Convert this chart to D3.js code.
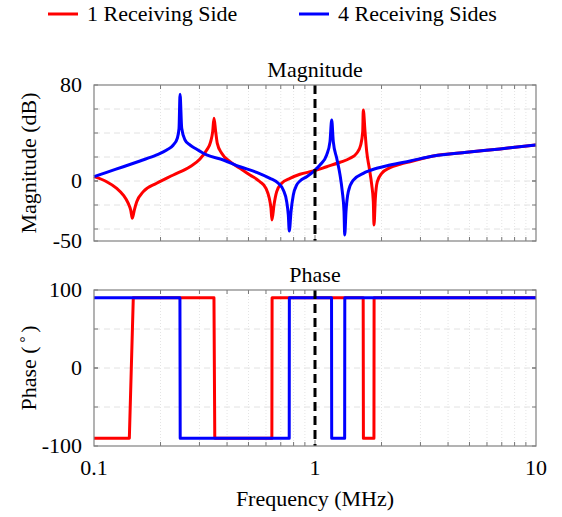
<!DOCTYPE html>
<html>
<head>
<meta charset="utf-8">
<script src="https://cdn.jsdelivr.net/npm/d3@7"></script>
<style>
  body { margin: 0; background: #fff; }
  svg text { font-family: "Liberation Serif", "DejaVu Serif", serif !important; }
</style>
</head>
<body>
<svg id="chart" width="562" height="517"></svg>
<script>
// magnitude (dB) vs frequency (MHz)
var redMag = [
  [0.1, 3.6], [0.1141, -0.6], [0.1267, -6.1], [0.1357, -11.7], [0.1429, -18.6], [0.1466, -24.2],
  [0.1491, -31.1], [0.1522, -24.2], [0.1561, -17.3], [0.1671, -8.9], [0.1921, -1.9],
  [0.2285, 5], [0.2719, 11.9], [0.3018, 18.3], [0.3236, 25.8], [0.3373, 32.8], [0.3444, 41.1],
  [0.3491, 52.2], [0.3553, 41.1], [0.3613, 31.4], [0.3783, 23.1], [0.4125, 16.1],
  [0.4577, 10.6], [0.508, 5], [0.5638, -0.6], [0.6, -6.1], [0.6211, -14.4], [0.6322, -22.8],
  [0.6388, -32.5], [0.6523, -20], [0.6709, -8.9], [0.7067, -1.9], [0.7706, 2.2],
  [0.8553, 5.6], [0.9825, 8.3], [1.129, 11.9], [1.298, 15.6], [1.44, 18.9], [1.544, 23.1],
  [1.61, 30], [1.644, 41.1], [1.654, 59.2], [1.684, 41.1], [1.714, 24.4], [1.761, 10.6],
  [1.806, -3.3], [1.836, -17.3], [1.849, -36.7], [1.875, -14.4], [1.914, -0.6],
  [2.004, 6.4], [2.185, 11.1], [2.425, 13.9], [2.691, 16.1], [3.43, 20.8], [4.859, 23.9],
  [6.873, 26.7], [10, 30]
];
var blueMag = [
  [0.1, 3.6], [0.1141, 7.25], [0.1357, 11.9], [0.1615, 16.7], [0.1921, 21.7], [0.2133, 25.8],
  [0.2285, 30], [0.2382, 35.6], [0.2425, 43.9], [0.2451, 72.2], [0.2494, 43.9],
  [0.2581, 34.2], [0.2719, 30], [0.2915, 26.4], [0.3236, 21.7], [0.3847, 17.5],
  [0.4577, 11.9], [0.5447, 7.25], [0.6257, 2.2], [0.6823, -1.9], [0.7187, -7.5],
  [0.7446, -17.3], [0.7572, -28.3], [0.765, -41.7], [0.7788, -25.6], [0.7977, -11.7],
  [0.8265, -3.3], [0.8553, 0], [0.9172, 3.6], [0.9897, 8.3], [1.053, 13.3], [1.129, 21.7],
  [1.169, 32.8], [1.19, 50.8], [1.21, 32.8], [1.254, 18.9], [1.298, 5], [1.329, -8.9],
  [1.353, -25.6], [1.363, -45], [1.381, -25.6], [1.415, -8.9], [1.491, 0.8], [1.654, 6.4],
  [1.902, 10.6], [2.185, 13.3], [2.691, 16.7], [3.43, 20.8], [4.859, 23.9], [6.873, 26.7],
  [10, 30]
];
// phase (deg) vs frequency (MHz)
var redPhase = [
  [0.1, -90], [0.1445, -90], [0.1506, 90], [0.349, 90], [0.352, -90], [0.638, -90],
  [0.6395, 90], [1.652, 90], [1.656, -90], [1.848, -90], [1.851, 90], [10, 90]
];
var bluePhase = [
  [0.1, 90], [0.2448, 90], [0.2455, -90], [0.7645, -90], [0.7655, 90], [1.188, 90],
  [1.19, -90], [1.362, -90], [1.364, 90], [10, 90]
];
var magTicks = [-50, 0, 80];
var magGrid = [-40, -20, 0, 20, 40, 60];
var phaseTicks = [-100, 0, 100];
var phaseGrid = [-50, 0, 50];
var freqTicks = [0.1, 1, 10];
var seriesNames = ["1 Receiving Side", "4 Receiving Sides"];
var seriesColors = ["#ff0000", "#0000ff"];

var svg = d3.select("#chart");
var left = 94, right = 536;
var serif = "'Liberation Serif', 'DejaVu Serif', serif";

var x = d3.scaleLog().domain([0.1, 10]).range([left, right]);
var minorF = [];
[0.1, 1].forEach(function(d) {
  for (var k = 2; k <= 9; k++) minorF.push(d * k);
});

function label(sel) {
  return sel.attr("font-family", serif).style("font-family", serif).style("font-size", "22px");
}

function panel(top, bottom, domain, ticks, grid, data, curve, title, ylabel, showX) {
  var y = d3.scaleLinear().domain(domain).range([bottom, top]);
  var g = svg.append("g");

  // grid
  g.selectAll("line.vgrid").data(minorF).enter().append("line")
    .attr("x1", function(d) { return x(d); }).attr("x2", function(d) { return x(d); })
    .attr("y1", top).attr("y2", bottom)
    .attr("stroke", "#e4e4e4").attr("stroke-width", 1).attr("stroke-dasharray", "1,2");
  g.selectAll("line.hgrid").data(grid).enter().append("line")
    .attr("x1", left).attr("x2", right)
    .attr("y1", function(d) { return y(d); }).attr("y2", function(d) { return y(d); })
    .attr("stroke", "#e2e2e2").attr("stroke-width", 1).attr("stroke-dasharray", "6,4");

  // tick marks inside the box
  minorF.concat([1]).forEach(function(d) {
    var len = d === 1 ? 6 : 4;
    g.append("line").attr("x1", x(d)).attr("x2", x(d)).attr("y1", bottom).attr("y2", bottom - len)
      .attr("stroke", "#777");
    g.append("line").attr("x1", x(d)).attr("x2", x(d)).attr("y1", top).attr("y2", top + len)
      .attr("stroke", "#777");
  });
  grid.concat(ticks).forEach(function(d) {
    g.append("line").attr("x1", left).attr("x2", left + 4).attr("y1", y(d)).attr("y2", y(d)).attr("stroke", "#777");
    g.append("line").attr("x1", right).attr("x2", right - 4).attr("y1", y(d)).attr("y2", y(d)).attr("stroke", "#777");
  });

  // curves, blue drawn last so it sits on top
  var line = d3.line().curve(curve)
    .x(function(d) { return x(d[0]); }).y(function(d) { return y(d[1]); });
  data.forEach(function(s, i) {
    g.append("path").datum(s).attr("d", line)
      .attr("fill", "none").attr("stroke", seriesColors[i]).attr("stroke-width", 3)
      .attr("stroke-linejoin", "round");
  });

  // 1 MHz marker
  g.append("line").attr("x1", x(1)).attr("x2", x(1)).attr("y1", top).attr("y2", bottom)
    .attr("stroke", "#000").attr("stroke-width", 3).attr("stroke-dasharray", "9,5");

  g.append("rect").attr("x", left).attr("y", top).attr("width", right - left).attr("height", bottom - top)
    .attr("fill", "none").attr("stroke", "#808080").attr("stroke-width", 1.2);

  // labels
  label(g.selectAll("text.yt").data(ticks).enter().append("text"))
    .attr("x", left - 12).attr("y", function(d) { return y(d) + 7; })
    .attr("text-anchor", "end")
    .text(function(d) { return d; });
  label(g.append("text")).attr("x", (left + right) / 2).attr("y", top - 8)
    .attr("text-anchor", "middle").text(title);
  var yl = label(g.append("text"))
    .attr("transform", "translate(36," + ((top + bottom) / 2) + ") rotate(-90)")
    .attr("text-anchor", "middle");
  ylabel(yl);

  if (showX) {
    label(g.selectAll("text.xt").data(freqTicks).enter().append("text"))
      .attr("x", function(d) { return x(d); }).attr("y", bottom + 29)
      .attr("text-anchor", "middle")
      .text(function(d) { return d; });
  }
}

panel(85, 241, [-50, 80], magTicks, magGrid, [redMag, blueMag], d3.curveMonotoneX, "Magnitude",
  function(t) { t.text("Magnitude (dB)"); }, false);
panel(290, 446, [-100, 100], phaseTicks, phaseGrid, [redPhase, bluePhase], d3.curveLinear, "Phase",
  function(t) {
    t.append("tspan").text("Phase (");
    t.append("tspan").attr("dy", -6).style("font-size", "15px").text(" \u00B0 ");
    t.append("tspan").attr("dy", 6).text(")");
  }, true);

label(svg.append("text")).attr("x", (left + right) / 2).attr("y", 506)
  .attr("text-anchor", "middle").text("Frequency (MHz)");

// legend
var legendX = [48, 299];
seriesNames.forEach(function(name, i) {
  svg.append("line").attr("x1", legendX[i]).attr("x2", legendX[i] + 30).attr("y1", 14).attr("y2", 14)
    .attr("stroke", seriesColors[i]).attr("stroke-width", 3);
  label(svg.append("text")).attr("x", legendX[i] + 39).attr("y", 21).text(name);
});
</script>
</body>
</html>
